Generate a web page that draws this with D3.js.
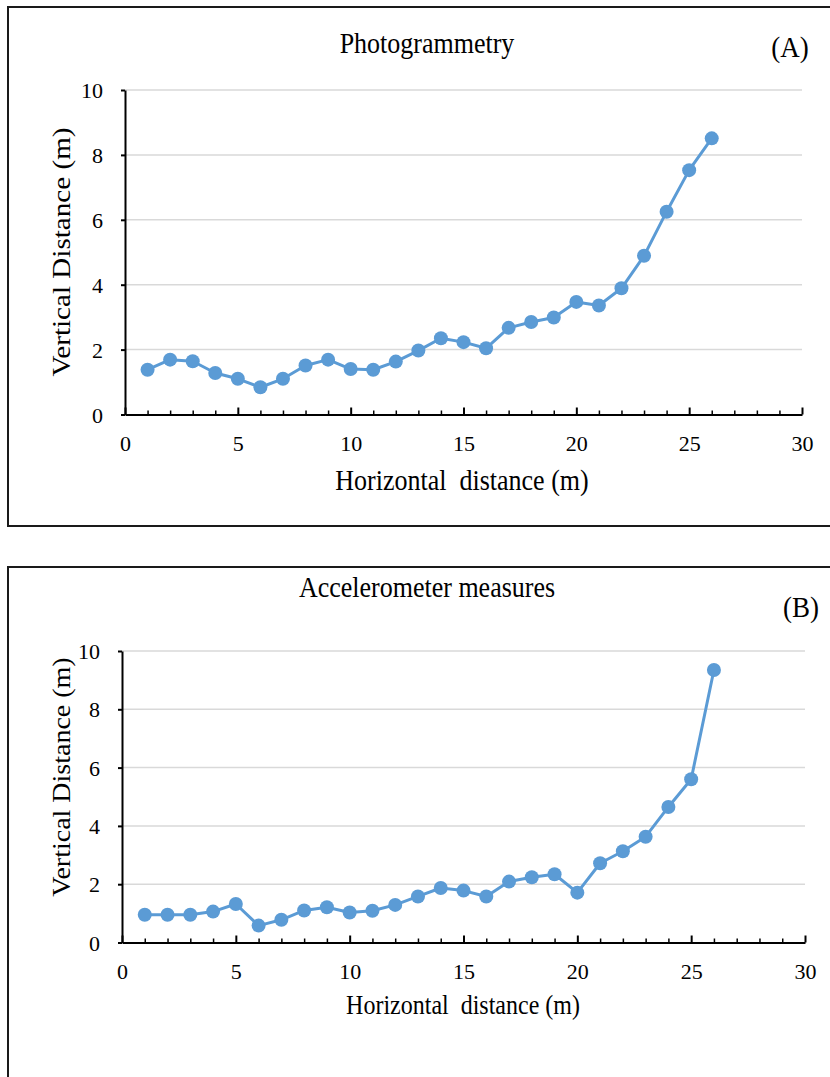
<!DOCTYPE html>
<html>
<head>
<meta charset="utf-8">
<script src="https://cdn.jsdelivr.net/npm/d3@7"></script>
<style>
    body { margin: 0; background: #fff; }
</style>
</head>
<body>
<svg id="chart" width="830" height="1077"></svg>
<script>
// horizontal distance of each survey point (m)
const distance = [1, 2, 3, 4, 5, 6, 7, 8, 9, 10, 11, 12, 13, 14, 15, 16, 17, 18, 19, 20, 21, 22, 23, 24, 25, 26]

// vertical distance (m), panel A
const photogrammetry = [1.38, 1.69, 1.64, 1.28, 1.10, 0.84, 1.10, 1.51, 1.69, 1.40, 1.38, 1.63, 1.97,
    2.35, 2.23, 2.04, 2.67, 2.85, 2.99, 3.47, 3.36, 3.89, 4.89, 6.25, 7.53, 8.51]

// vertical distance (m), panel B
const accelerometer = [0.95, 0.95, 0.95, 1.06, 1.32, 0.58, 0.78, 1.10, 1.21, 1.03, 1.09, 1.29, 1.58,
    1.87, 1.78, 1.58, 2.09, 2.24, 2.34, 1.71, 2.72, 3.13, 3.63, 4.65, 5.60, 9.35]

const yTicks = [0, 2, 4, 6, 8, 10]
const xLabelTicks = [0, 5, 10, 15, 20, 25, 30]
const xDomain = [0, 30]
const yDomain = [0, 10]

const BLUE = '#5b9bd5'
const SERIF = '"Liberation Serif", "Times New Roman", Times, "DejaVu Serif", serif'
const svg = d3.select('#chart')

// the original figure is a bit stretched vertically, text included
const stretchedText = (g, { x, y, size, text, anchor = 'middle', rotate = 0, sy = 1.12 }) =>
    g.append('text')
        .attr('transform', `translate(${x},${y}) rotate(${rotate}) scale(${rotate ? sy : 1},${rotate ? 1 : sy})`)
        .attr('text-anchor', anchor)
        .style('font-family', SERIF)
        .style('font-size', size + 'px')
        .style('white-space', 'pre')
        .attr('fill', '#000')
        .text(text)

const drawPanel = ({ frame, title, tag, tagPos, values, plot, xLabel, yLabel }) => {
    const g = svg.append('g')

    // outer frame (right / bottom edges run off the picture)
    g.append('rect')
        .attr('x', frame.x).attr('y', frame.y)
        .attr('width', frame.w).attr('height', frame.h)
        .attr('fill', 'none')
        .attr('stroke', '#1a1a1a')
        .attr('stroke-width', 2)

    const x = d3.scaleLinear().domain(xDomain).range([plot.left, plot.right])
    const y = d3.scaleLinear().domain(yDomain).range([plot.bottom, plot.top])

    // gridlines
    g.append('g')
        .selectAll('line')
        .data(yTicks.filter(t => t > 0))
        .join('line')
        .attr('x1', x(0)).attr('x2', x(30))
        .attr('y1', d => y(d)).attr('y2', d => y(d))
        .attr('stroke', '#d9d9d9')
        .attr('stroke-width', 1.5)

    // y axis
    const yAxis = g.append('g')
        .attr('transform', `translate(${x(0)},0)`)
        .call(d3.axisLeft(y).tickValues(yTicks).tickSize(4).tickPadding(18).tickSizeOuter(0))
    yAxis.select('.domain').attr('stroke', '#000').attr('stroke-width', 2)
    yAxis.selectAll('.tick line').attr('stroke', '#000').attr('stroke-width', 2)
    yAxis.selectAll('.tick text')
        .style('font-family', SERIF).style('font-size', '22px')
        .attr('dy', null).attr('y', 7.5)

    // x axis: ticks every metre, pointing inward, labels every 5
    const xAxis = g.append('g')
        .attr('transform', `translate(0,${y(0)})`)
        .call(d3.axisBottom(x)
            .tickValues(d3.range(xDomain[0], xDomain[1] + 1))
            .tickSize(-4)
            .tickSizeOuter(0)
            .tickFormat(d => xLabelTicks.includes(d) ? d : ''))
    xAxis.select('.domain').attr('stroke', '#000').attr('stroke-width', 2)
    xAxis.selectAll('.tick line').attr('stroke', '#000').attr('stroke-width', 1.5)
        .filter(d => xLabelTicks.includes(d)).attr('y2', -7).attr('stroke-width', 2)
    xAxis.selectAll('.tick text')
        .style('font-family', SERIF).style('font-size', '22px')
        .attr('dy', null).attr('y', 36)

    // series
    const pts = distance.map((d, i) => [d, values[i]])
    g.append('path')
        .datum(pts)
        .attr('fill', 'none')
        .attr('stroke', BLUE)
        .attr('stroke-width', 3)
        .attr('stroke-linejoin', 'round')
        .attr('d', d3.line().x(d => x(d[0])).y(d => y(d[1])))
    g.append('g')
        .selectAll('circle')
        .data(pts)
        .join('circle')
        .attr('cx', d => x(d[0]))
        .attr('cy', d => y(d[1]))
        .attr('r', 7)
        .attr('fill', BLUE)

    // texts
    stretchedText(g, { ...title, size: 26 })
    stretchedText(g, { text: tag, ...tagPos, size: 27 })
    stretchedText(g, xLabel)
    stretchedText(g, { ...yLabel, rotate: -90 })
}

drawPanel({
    frame: { x: 8, y: 7, w: 840, h: 519 },
    title: { text: 'Photogrammetry', x: 427, y: 53 },
    tag: '(A)',
    tagPos: { x: 790, y: 57 },
    values: photogrammetry,
    plot: { left: 125, right: 802, top: 90, bottom: 414.5 },
    xLabel: { text: 'Horizontal  distance (m)', x: 462, y: 490, size: 26 },
    yLabel: { text: 'Vertical Distance (m)', x: 70, y: 252, size: 26 }
})

drawPanel({
    frame: { x: 8, y: 567, w: 840, h: 540 },
    title: { text: 'Accelerometer measures', x: 427, y: 597 },
    tag: '(B)',
    tagPos: { x: 801, y: 617 },
    values: accelerometer,
    plot: { left: 122, right: 805, top: 651, bottom: 942.5 },
    xLabel: { text: 'Horizontal  distance (m)', x: 463, y: 1014, size: 24 },
    yLabel: { text: 'Vertical Distance (m)', x: 70, y: 777, size: 25 }
})
</script>
</body>
</html>
